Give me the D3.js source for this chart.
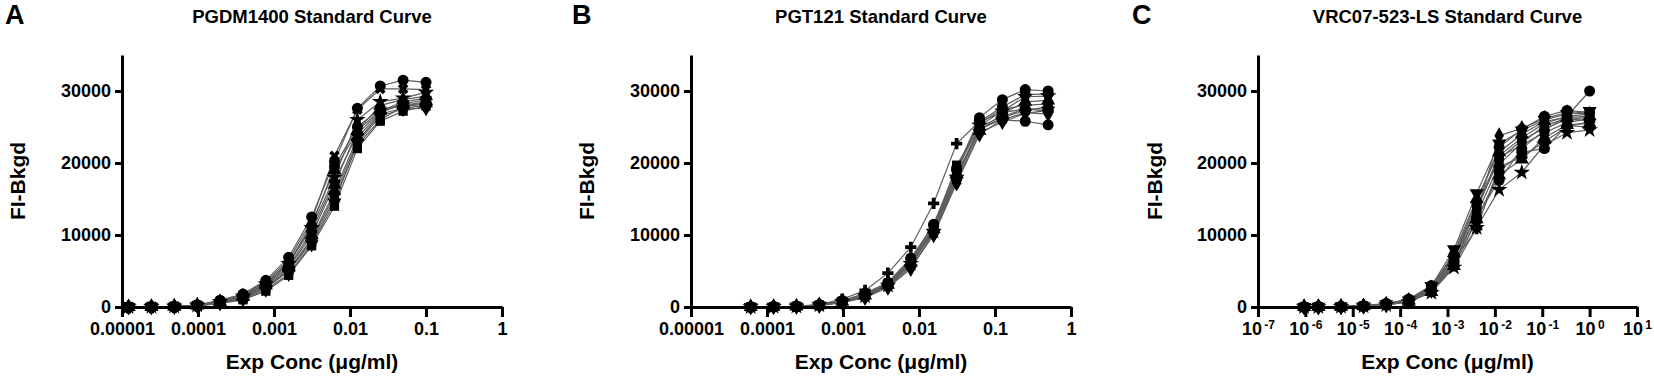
<!DOCTYPE html>
<html>
<head>
<meta charset="utf-8">
<script src="https://cdn.jsdelivr.net/npm/d3@7"></script>
<style>
  body { margin: 0; background: #fff; }
  text { font-family: "Liberation Sans", Arial, sans-serif; font-weight: bold; fill: #000; }
</style>
</head>
<body>
<svg id="chart" width="1654" height="379"></svg>
<script>
// concentrations (ug/ml) per antibody
var concA = [0.0000122, 0.0000244, 0.0000488, 0.0000977, 0.000195, 0.000391, 0.000781,
             0.00156, 0.00313, 0.00625, 0.0125, 0.025, 0.05, 0.1];
var concB = [0.000061, 0.000122, 0.000244, 0.000488, 0.000977, 0.00195, 0.0039,
             0.0078, 0.0156, 0.03125, 0.0625, 0.125, 0.25, 0.5];
var concC = [0.00000094, 0.00000188, 0.00000565, 0.0000169, 0.0000508, 0.000152, 0.000457,
             0.00137, 0.00412, 0.0123, 0.037, 0.111, 0.333, 1];

// FI-Bkgd replicate curves
var pgdm1400 = [
  [0, 30, 90, 280, 950, 1800, 3700, 6900, 12500, 20200, 27600, 30700, 31500, 31200],
  [0, 20, 60, 250, 800, 1700, 3500, 6500, 12000, 21000, 27400, 30300, 30300, 30200],
  [0, 40, 70, 220, 700, 1500, 3200, 6000, 11000, 18000, 26000, 28500, 29000, 29800],
  [0, 30, 80, 200, 650, 1400, 3000, 5500, 10000, 17000, 24500, 28000, 28800, 29300],
  [0, 10, 50, 180, 600, 1200, 2600, 5000, 9000, 15000, 22500, 26000, 27800, 28200],
  [0, 20, 60, 210, 620, 1300, 2800, 5200, 9500, 16000, 23500, 27000, 28200, 28800],
  [0, 15, 40, 160, 550, 1100, 2400, 4600, 8700, 14500, 22800, 26500, 27500, 27600],
  [0, 25, 70, 230, 680, 1450, 3100, 5600, 10500, 17500, 24000, 27200, 28500, 29000],
  [0, 30, 80, 260, 750, 1600, 3300, 6200, 11200, 19500, 25000, 27500, 28000, 28500],
  [0, 10, 40, 150, 500, 1000, 2200, 4400, 8500, 14000, 22000, 25800, 27200, 27900],
  [0, 20, 60, 200, 600, 1300, 2700, 5100, 9300, 15500, 23000, 26800, 27600, 28000],
  [0, 25, 70, 240, 700, 1550, 3300, 6000, 11600, 19000, 24500, 27300, 28000, 28300]
];
var pgt121 = [
  [0, 40, 90, 350, 1100, 2300, 4700, 8300, 14400, 22700, 25800, 27000, 27500, 27200],
  [0, 30, 80, 300, 900, 1900, 3400, 6800, 11300, 19000, 26300, 28800, 30200, 30000],
  [0, 50, 100, 280, 800, 1700, 3300, 6500, 11000, 19700, 25000, 26500, 27500, 27500],
  [0, 40, 80, 260, 750, 1600, 3100, 6200, 10800, 18500, 24500, 26800, 28500, 28700],
  [0, 30, 70, 220, 650, 1400, 2800, 5500, 10000, 17200, 24000, 26000, 27000, 26800],
  [0, 20, 60, 200, 600, 1300, 2700, 5300, 10200, 17500, 24200, 25700, 26900, 27300],
  [0, 30, 90, 250, 700, 1500, 3000, 6000, 10500, 18000, 25200, 27200, 29200, 29300],
  [0, 20, 70, 230, 680, 1450, 2900, 5800, 10400, 17800, 24800, 26000, 25800, 25300],
  [0, 30, 80, 270, 780, 1650, 3200, 6400, 11100, 18800, 25500, 27500, 28000, 28200],
  [0, 40, 90, 290, 820, 1750, 3350, 6600, 11500, 19300, 25700, 27800, 29500, 29600],
  [0, 30, 80, 240, 720, 1550, 3050, 6100, 10700, 18200, 24600, 26300, 27300, 27800]
];
var vrc07 = [
  [0, 30, 60, 150, 500, 1000, 2800, 6800, 12500, 17600, 22000, 24500, 26500, 30000],
  [0, 40, 50, 120, 350, 900, 2600, 7000, 14000, 21000, 23500, 25500, 26500, 26800],
  [0, 20, 40, 100, 300, 800, 2300, 6000, 13000, 23800, 24800, 26200, 27000, 26800],
  [0, 20, 50, 100, 280, 700, 2000, 5500, 11000, 16300, 18700, 22500, 24200, 24600],
  [0, 30, 60, 130, 400, 950, 2700, 7500, 15000, 21500, 24000, 25800, 26300, 26500],
  [0, 20, 50, 110, 380, 900, 2900, 8000, 15800, 22700, 24500, 26000, 26800, 27200],
  [0, 30, 50, 120, 350, 850, 2400, 6300, 10900, 19500, 20800, 23000, 25000, 25800],
  [0, 30, 60, 140, 420, 1000, 2500, 6600, 13500, 20800, 22500, 24200, 25600, 26200],
  [0, 20, 50, 110, 320, 780, 2200, 5800, 12000, 18800, 21500, 22000, 25200, 25000],
  [0, 30, 60, 130, 450, 1100, 3000, 7200, 14500, 22200, 24700, 26500, 27300, 27000],
  [0, 40, 60, 150, 380, 920, 2650, 6900, 13800, 20500, 23200, 24800, 26000, 26400],
  [0, 20, 40, 120, 330, 820, 2350, 6100, 12800, 19800, 22800, 25200, 26200, 25800],
  [0, 30, 50, 100, 300, 750, 2100, 5700, 12200, 18300, 20500, 23500, 25300, 25500]
];

// marker shape of each replicate (Prism-like symbols)
var shapesA = ["circle", "x", "star", "triangle", "square", "diamond", "down", "plus",
               "circle", "square", "cross", "triangle"];
var shapesB = ["plus", "circle", "square", "triangle", "diamond", "down", "star",
               "circle", "x", "circle", "square"];
var shapesC = ["circle", "square", "diamond", "star", "triangle", "down", "plus",
               "x", "circle", "circle", "square", "diamond", "triangle"];

var yTicks = [0, 10000, 20000, 30000];
var decTicksAB = [0.00001, 0.0001, 0.001, 0.01, 0.1, 1];
var decLabelsAB = ["0.00001", "0.0001", "0.001", "0.01", "0.1", "1"];
var decTicksC = [1e-7, 1e-6, 1e-5, 1e-4, 1e-3, 1e-2, 1e-1, 1, 10];
var expLabelsC = ["-7", "-6", "-5", "-4", "-3", "-2", "-1", "0", "1"];

var panels = [
  {letter: "A", title: "PGDM1400 Standard Curve", conc: concA, data: pgdm1400, shapes: shapesA,
   x0: 122, x1: 502, dom: [1e-5, 1], letterX: 5, yLabelX: 25},
  {letter: "B", title: "PGT121 Standard Curve", conc: concB, data: pgt121, shapes: shapesB,
   x0: 691, x1: 1071, dom: [1e-5, 1], letterX: 572, yLabelX: 594},
  {letter: "C", title: "VRC07-523-LS Standard Curve", conc: concC, data: vrc07, shapes: shapesC,
   x0: 1258, x1: 1637, dom: [1e-7, 10], letterX: 1132, yLabelX: 1162}
];

var svg = d3.select("#chart");
var yTop = 55, yBot = 307;
var y = d3.scaleLinear().domain([0, 35000]).range([yBot, yTop]);

function symbolPath(name) {
  var s = d3.symbol();
  if (name == "circle") return s.type(d3.symbolCircle).size(95)();
  if (name == "square") return s.type(d3.symbolSquare).size(85)();
  if (name == "triangle" || name == "down") return s.type(d3.symbolTriangle).size(85)();
  if (name == "diamond") return s.type(d3.symbolDiamond).size(80)();
  if (name == "star") return s.type(d3.symbolStar).size(85)();
  if (name == "plus" || name == "x") return s.type(d3.symbolCross).size(70)();
  return s.type(d3.symbolWye).size(85)();
}

panels.forEach(function(p, pi) {
  var x = d3.scaleLog().domain(p.dom).range([p.x0, p.x1]);
  var g = svg.append("g");

  // panel letter and title
  g.append("text").attr("x", p.letterX).attr("y", 24)
    .style("font-size", "27px").text(p.letter);
  g.append("text").attr("x", (p.x0 + p.x1) / 2).attr("y", 23)
    .attr("text-anchor", "middle").style("font-size", "18.5px").text(p.title);

  // replicate curves: lines first, markers on top
  var line = d3.line()
    .x(function(d, i) { return x(p.conc[i]); })
    .y(function(d) { return y(d); });

  g.selectAll(".curve")
    .data(p.data)
    .enter().append("path")
      .attr("class", "curve")
      .attr("d", line)
      .attr("fill", "none")
      .attr("stroke", "#5e5e5e")
      .attr("stroke-width", 1.2);

  p.data.forEach(function(row, si) {
    var shp = p.shapes[si];
    g.selectAll(".m" + si)
      .data(row)
      .enter().append("path")
        .attr("class", "m" + si)
        .attr("d", symbolPath(shp))
        .attr("transform", function(d, i) {
          var r = shp == "down" ? 180 : (shp == "x" ? 45 : 0);
          return "translate(" + x(p.conc[i]) + "," + y(d) + ") rotate(" + r + ")";
        })
        .attr("fill", "#000");
  });

  // x axis
  var xAxis = d3.axisBottom(x).tickValues(pi < 2 ? decTicksAB : decTicksC)
    .tickSize(10).tickSizeOuter(0).tickPadding(5)
    .tickFormat(function(d, i) { return pi < 2 ? decLabelsAB[i] : "10"; });
  var gx = g.append("g")
    .attr("transform", "translate(0," + yBot + ")")
    .call(xAxis);
  gx.selectAll("text").style("font-size", "18px").attr("fill", "#000");
  if (pi == 2) {
    gx.selectAll("text").append("tspan")
      .attr("dy", "-0.5em").style("font-size", "12px")
      .text(function(d, i) { return "\u2009" + expLabelsC[i]; });
  }

  // y axis
  var yAxis = d3.axisLeft(y).tickValues(yTicks)
    .tickSize(7).tickSizeOuter(0).tickPadding(4)
    .tickFormat(d3.format("d"));
  var gy = g.append("g")
    .attr("transform", "translate(" + p.x0 + ",0)")
    .call(yAxis);
  gy.selectAll("text").style("font-size", "18px").attr("fill", "#000");

  [gx, gy].forEach(function(a) {
    a.select(".domain").attr("stroke", "#000").attr("stroke-width", 3);
    a.selectAll(".tick line").attr("stroke", "#000").attr("stroke-width", 3);
  });

  // axis titles
  g.append("text").attr("x", (p.x0 + p.x1) / 2).attr("y", 369)
    .attr("text-anchor", "middle").style("font-size", "21px")
    .text("Exp Conc (\u03bcg/ml)");
  g.append("text")
    .attr("transform", "translate(" + p.yLabelX + "," + ((yTop + yBot) / 2) + ") rotate(-90)")
    .attr("text-anchor", "middle").style("font-size", "21px")
    .text("FI-Bkgd");
});
</script>
</body>
</html>
